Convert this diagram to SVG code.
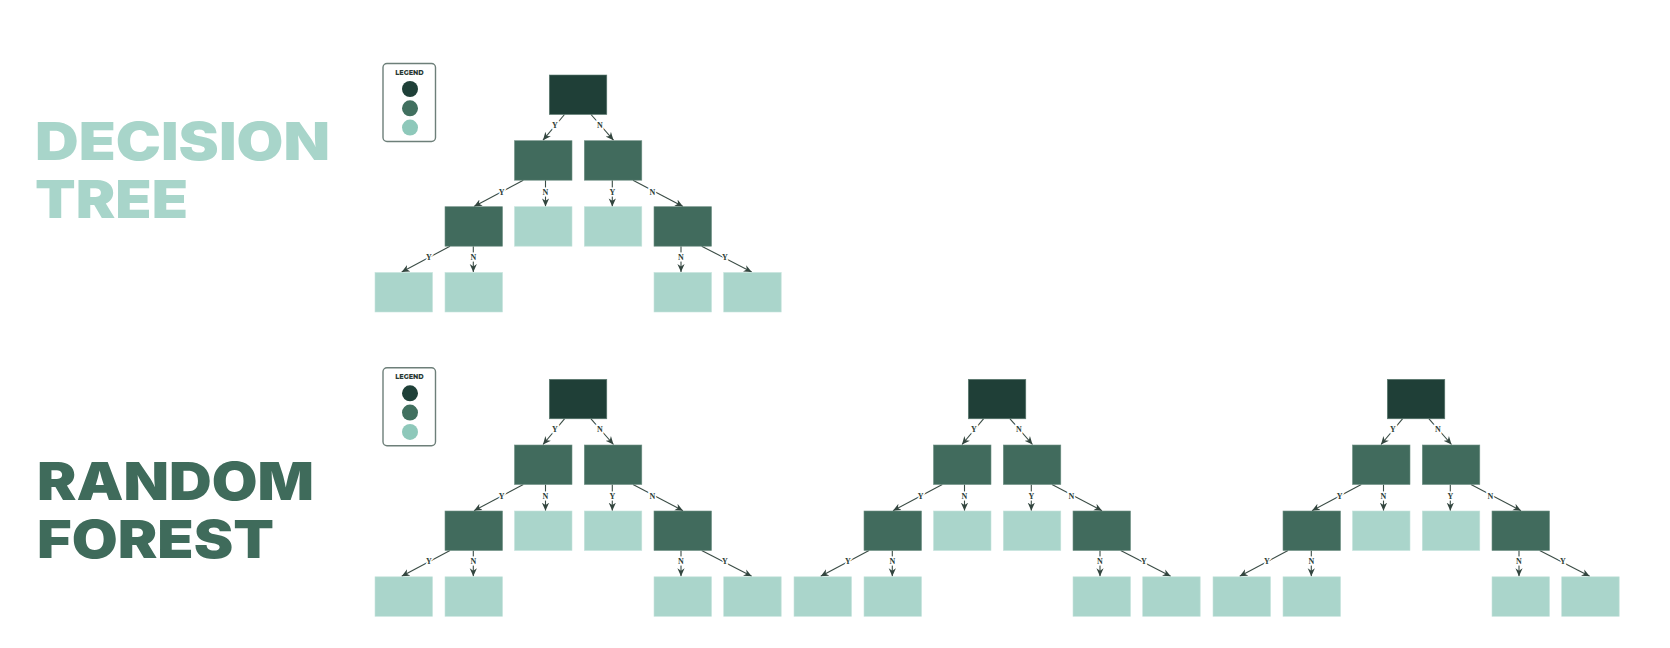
<svg xmlns="http://www.w3.org/2000/svg" width="1670" height="648" viewBox="0 0 1670 648">
<defs>
<marker id="arr" markerUnits="userSpaceOnUse" markerWidth="9" markerHeight="8" refX="8" refY="4" orient="auto">
<path d="M0,0.4 L8,4 L0,7.6 L2.4,4 Z" fill="#33463f"/>
</marker>
<style>
.d{fill:#1f3f37;stroke:#5e7d73;stroke-width:0.6}
.m{fill:#416b5d;stroke:#6f8f84;stroke-width:0.6}
.l{fill:#aad5cb;stroke:#c5e3dc;stroke-width:0.6}
.c{fill:none;stroke:#3a4c45;stroke-width:1.1;marker-end:url(#arr)}
.lb{font-family:"Liberation Serif","DejaVu Serif",serif;font-weight:bold;font-size:8px;fill:#2c3d37;text-anchor:middle;dominant-baseline:central;stroke:#ffffff;stroke-width:3;paint-order:stroke}
.lgbox{fill:#ffffff;stroke:#6d7f79;stroke-width:1.4}
.lgt{font-family:"Montserrat","Inter","Liberation Sans",sans-serif;font-weight:800;font-size:6.5px;fill:#2b3a35;text-anchor:middle}
.ttl{font-family:"Inter","Liberation Sans",sans-serif;font-weight:900;font-size:52px}
</style>
</defs>
<rect width="1670" height="648" fill="#ffffff"/>

<g id="titles">
<text class="ttl" x="35" y="160" fill="#a8d5ca" textLength="295" lengthAdjust="spacingAndGlyphs">DECISION</text>
<text class="ttl" x="35" y="218" fill="#a8d5ca" textLength="153" lengthAdjust="spacingAndGlyphs">TREE</text>
<text class="ttl" x="37" y="500" fill="#3f6b5b" textLength="277" lengthAdjust="spacingAndGlyphs">RANDOM</text>
<text class="ttl" x="37" y="558" fill="#3f6b5b" textLength="237" lengthAdjust="spacingAndGlyphs">FOREST</text>
</g>

<g id="legend-dt">
<rect class="lgbox" x="383" y="63.5" width="52.5" height="78" rx="4"/>
<text class="lgt" x="409.5" y="74.8">LEGEND</text>
<circle cx="410" cy="89" r="8" fill="#1f4038"/>
<circle cx="410" cy="108.3" r="8" fill="#41705f"/>
<circle cx="410" cy="127.6" r="8" fill="#8ec8ba"/>
</g>
<g id="legend-rf">
<rect class="lgbox" x="383" y="367.8" width="52.5" height="78" rx="4"/>
<text class="lgt" x="409.5" y="379.1">LEGEND</text>
<circle cx="410" cy="393.3" r="8" fill="#1f4038"/>
<circle cx="410" cy="412.6" r="8" fill="#41705f"/>
<circle cx="410" cy="431.9" r="8" fill="#8ec8ba"/>
</g>

<g id="connectors">
<g id="conn-dt">
<path class="c" d="M564.5,114.5 L543,140.2"/><text class="lb" x="555" y="125">Y</text>
<path class="c" d="M591,114.5 L613.5,140.2"/><text class="lb" x="600" y="125">N</text>
<path class="c" d="M523.3,180.2 L474,206.4"/><text class="lb" x="501.7" y="192.3">Y</text>
<path class="c" d="M545.5,180.2 L545.5,206.4"/><text class="lb" x="545.5" y="192">N</text>
<path class="c" d="M612.3,180.2 L612.3,206.4"/><text class="lb" x="612.3" y="192">Y</text>
<path class="c" d="M633,180.2 L683,206.4"/><text class="lb" x="652.3" y="192">N</text>
<path class="c" d="M450,246.2 L401.7,272"/><text class="lb" x="429" y="257">Y</text>
<path class="c" d="M473.3,246.2 L473.3,272"/><text class="lb" x="473.3" y="257">N</text>
<path class="c" d="M681,246.2 L681,272"/><text class="lb" x="681" y="257">N</text>
<path class="c" d="M701.7,246.2 L751.7,272"/><text class="lb" x="725" y="257">Y</text>
</g>
<g id="conn-rf1" transform="translate(0,304.3)">
<path class="c" d="M564.5,114.5 L543,140.2"/><text class="lb" x="555" y="125">Y</text>
<path class="c" d="M591,114.5 L613.5,140.2"/><text class="lb" x="600" y="125">N</text>
<path class="c" d="M523.3,180.2 L474,206.4"/><text class="lb" x="501.7" y="192.3">Y</text>
<path class="c" d="M545.5,180.2 L545.5,206.4"/><text class="lb" x="545.5" y="192">N</text>
<path class="c" d="M612.3,180.2 L612.3,206.4"/><text class="lb" x="612.3" y="192">Y</text>
<path class="c" d="M633,180.2 L683,206.4"/><text class="lb" x="652.3" y="192">N</text>
<path class="c" d="M450,246.2 L401.7,272"/><text class="lb" x="429" y="257">Y</text>
<path class="c" d="M473.3,246.2 L473.3,272"/><text class="lb" x="473.3" y="257">N</text>
<path class="c" d="M681,246.2 L681,272"/><text class="lb" x="681" y="257">N</text>
<path class="c" d="M701.7,246.2 L751.7,272"/><text class="lb" x="725" y="257">Y</text>
</g>
<g id="conn-rf2" transform="translate(419,304.3)">
<path class="c" d="M564.5,114.5 L543,140.2"/><text class="lb" x="555" y="125">Y</text>
<path class="c" d="M591,114.5 L613.5,140.2"/><text class="lb" x="600" y="125">N</text>
<path class="c" d="M523.3,180.2 L474,206.4"/><text class="lb" x="501.7" y="192.3">Y</text>
<path class="c" d="M545.5,180.2 L545.5,206.4"/><text class="lb" x="545.5" y="192">N</text>
<path class="c" d="M612.3,180.2 L612.3,206.4"/><text class="lb" x="612.3" y="192">Y</text>
<path class="c" d="M633,180.2 L683,206.4"/><text class="lb" x="652.3" y="192">N</text>
<path class="c" d="M450,246.2 L401.7,272"/><text class="lb" x="429" y="257">Y</text>
<path class="c" d="M473.3,246.2 L473.3,272"/><text class="lb" x="473.3" y="257">N</text>
<path class="c" d="M681,246.2 L681,272"/><text class="lb" x="681" y="257">N</text>
<path class="c" d="M701.7,246.2 L751.7,272"/><text class="lb" x="725" y="257">Y</text>
</g>
<g id="conn-rf3" transform="translate(838,304.3)">
<path class="c" d="M564.5,114.5 L543,140.2"/><text class="lb" x="555" y="125">Y</text>
<path class="c" d="M591,114.5 L613.5,140.2"/><text class="lb" x="600" y="125">N</text>
<path class="c" d="M523.3,180.2 L474,206.4"/><text class="lb" x="501.7" y="192.3">Y</text>
<path class="c" d="M545.5,180.2 L545.5,206.4"/><text class="lb" x="545.5" y="192">N</text>
<path class="c" d="M612.3,180.2 L612.3,206.4"/><text class="lb" x="612.3" y="192">Y</text>
<path class="c" d="M633,180.2 L683,206.4"/><text class="lb" x="652.3" y="192">N</text>
<path class="c" d="M450,246.2 L401.7,272"/><text class="lb" x="429" y="257">Y</text>
<path class="c" d="M473.3,246.2 L473.3,272"/><text class="lb" x="473.3" y="257">N</text>
<path class="c" d="M681,246.2 L681,272"/><text class="lb" x="681" y="257">N</text>
<path class="c" d="M701.7,246.2 L751.7,272"/><text class="lb" x="725" y="257">Y</text>
</g>
</g>

<g id="tree-dt">
<g id="dt-n1"><rect class="d" x="549.3" y="75" width="57.5" height="39.5"/></g>
<g id="dt-n2"><rect class="m" x="514.5" y="140.7" width="57.5" height="39.5"/></g>
<g id="dt-n3"><rect class="m" x="584.3" y="140.7" width="57.5" height="39.5"/></g>
<g id="dt-n4"><rect class="m" x="445" y="206.7" width="57.5" height="39.5"/></g>
<g id="dt-n5"><rect class="l" x="514.5" y="206.7" width="57.5" height="39.5"/></g>
<g id="dt-n6"><rect class="l" x="584.3" y="206.7" width="57.5" height="39.5"/></g>
<g id="dt-n7"><rect class="m" x="654" y="206.7" width="57.5" height="39.5"/></g>
<g id="dt-n8"><rect class="l" x="375" y="272.5" width="57.5" height="39.5"/></g>
<g id="dt-n9"><rect class="l" x="445" y="272.5" width="57.5" height="39.5"/></g>
<g id="dt-n10"><rect class="l" x="654" y="272.5" width="57.5" height="39.5"/></g>
<g id="dt-n11"><rect class="l" x="723.7" y="272.5" width="57.5" height="39.5"/></g>
</g>

<g id="tree-rf1" transform="translate(0,304.3)">
<g id="rf1-n1"><rect class="d" x="549.3" y="75" width="57.5" height="39.5"/></g>
<g id="rf1-n2"><rect class="m" x="514.5" y="140.7" width="57.5" height="39.5"/></g>
<g id="rf1-n3"><rect class="m" x="584.3" y="140.7" width="57.5" height="39.5"/></g>
<g id="rf1-n4"><rect class="m" x="445" y="206.7" width="57.5" height="39.5"/></g>
<g id="rf1-n5"><rect class="l" x="514.5" y="206.7" width="57.5" height="39.5"/></g>
<g id="rf1-n6"><rect class="l" x="584.3" y="206.7" width="57.5" height="39.5"/></g>
<g id="rf1-n7"><rect class="m" x="654" y="206.7" width="57.5" height="39.5"/></g>
<g id="rf1-n8"><rect class="l" x="375" y="272.5" width="57.5" height="39.5"/></g>
<g id="rf1-n9"><rect class="l" x="445" y="272.5" width="57.5" height="39.5"/></g>
<g id="rf1-n10"><rect class="l" x="654" y="272.5" width="57.5" height="39.5"/></g>
<g id="rf1-n11"><rect class="l" x="723.7" y="272.5" width="57.5" height="39.5"/></g>
</g>

<g id="tree-rf2" transform="translate(419,304.3)">
<g id="rf2-n1"><rect class="d" x="549.3" y="75" width="57.5" height="39.5"/></g>
<g id="rf2-n2"><rect class="m" x="514.5" y="140.7" width="57.5" height="39.5"/></g>
<g id="rf2-n3"><rect class="m" x="584.3" y="140.7" width="57.5" height="39.5"/></g>
<g id="rf2-n4"><rect class="m" x="445" y="206.7" width="57.5" height="39.5"/></g>
<g id="rf2-n5"><rect class="l" x="514.5" y="206.7" width="57.5" height="39.5"/></g>
<g id="rf2-n6"><rect class="l" x="584.3" y="206.7" width="57.5" height="39.5"/></g>
<g id="rf2-n7"><rect class="m" x="654" y="206.7" width="57.5" height="39.5"/></g>
<g id="rf2-n8"><rect class="l" x="375" y="272.5" width="57.5" height="39.5"/></g>
<g id="rf2-n9"><rect class="l" x="445" y="272.5" width="57.5" height="39.5"/></g>
<g id="rf2-n10"><rect class="l" x="654" y="272.5" width="57.5" height="39.5"/></g>
<g id="rf2-n11"><rect class="l" x="723.7" y="272.5" width="57.5" height="39.5"/></g>
</g>

<g id="tree-rf3" transform="translate(838,304.3)">
<g id="rf3-n1"><rect class="d" x="549.3" y="75" width="57.5" height="39.5"/></g>
<g id="rf3-n2"><rect class="m" x="514.5" y="140.7" width="57.5" height="39.5"/></g>
<g id="rf3-n3"><rect class="m" x="584.3" y="140.7" width="57.5" height="39.5"/></g>
<g id="rf3-n4"><rect class="m" x="445" y="206.7" width="57.5" height="39.5"/></g>
<g id="rf3-n5"><rect class="l" x="514.5" y="206.7" width="57.5" height="39.5"/></g>
<g id="rf3-n6"><rect class="l" x="584.3" y="206.7" width="57.5" height="39.5"/></g>
<g id="rf3-n7"><rect class="m" x="654" y="206.7" width="57.5" height="39.5"/></g>
<g id="rf3-n8"><rect class="l" x="375" y="272.5" width="57.5" height="39.5"/></g>
<g id="rf3-n9"><rect class="l" x="445" y="272.5" width="57.5" height="39.5"/></g>
<g id="rf3-n10"><rect class="l" x="654" y="272.5" width="57.5" height="39.5"/></g>
<g id="rf3-n11"><rect class="l" x="723.7" y="272.5" width="57.5" height="39.5"/></g>
</g>
</svg>
